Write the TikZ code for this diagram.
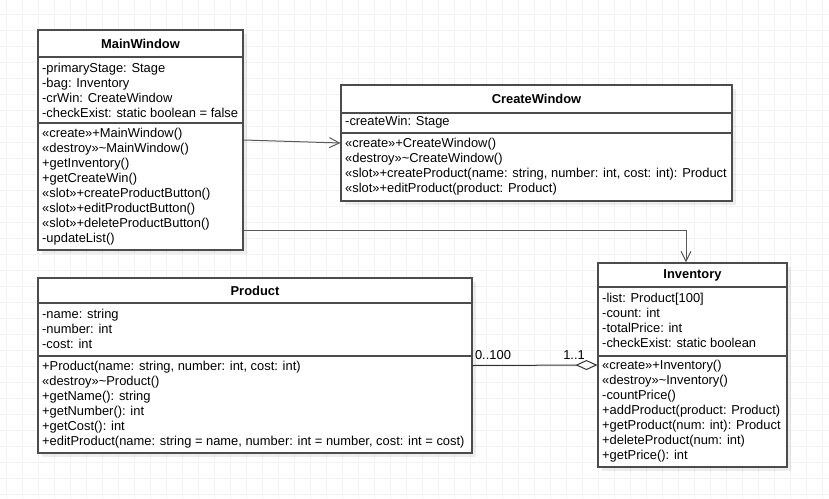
\documentclass[tikz,border=0pt]{standalone}
\usepackage{fontspec}
\setmainfont{Liberation Sans}
\usetikzlibrary{arrows.meta,shadows}
\begin{document}
\begin{tikzpicture}[x=1pt, y=-1pt,
	every node/.style={font=\fontsize{12.9}{15}\selectfont, inner sep=0pt},
	gridline/.style={draw=black!5, line width=1pt},
	classbox/.style={draw=black!70, line width=1.1pt, fill=white,
		drop shadow={shadow xshift=4pt, shadow yshift=-4pt, fill=black, opacity=0.07}},
	sepline/.style={draw=black!70, line width=1.1pt},
	classname/.style={font=\fontsize{12.9}{15}\selectfont\bfseries},
	members/.style={align=left, anchor=west},
	assoc/.style={draw=black!65, line width=1pt, -{Straight Barb[length=10pt,width=10pt]}},
	aggr/.style={draw=black!80, line width=1pt, -{Diamond[open,length=22pt,width=10pt]}}]
		\useasboundingbox (0,0) rectangle (829,498);
		\fill[white] (0,0) rectangle (829,498);
		\foreach \gx in {6.3,22.3,...,829} \draw[gridline] (\gx,0) -- (\gx,498);
		\foreach \gy in {14.5,30.5,...,498} \draw[gridline] (0,\gy) -- (829,\gy);

		\node[classbox, minimum width=205, minimum height=220] (MW) at (140.5,140) {};
			\node[classname] (MWt) at (140.5,43.5) {MainWindow};
			\draw[sepline] (MW.west |- 0,57) -- (MW.east |- 0,57);
			\node[members] (MWa) at (42,90) {-primaryStage: Stage\\-bag: Inventory\\-crWin: CreateWindow\\-checkExist: static boolean = false};
			\draw[sepline] (MW.west |- 0,123) -- (MW.east |- 0,123);
			\node[members] (MWm) at (42,186.5) {«create»+MainWindow()\\«destroy»\textasciitilde MainWindow()\\+getInventory()\\+getCreateWin()\\«slot»+createProductButton()\\«slot»+editProductButton()\\«slot»+deleteProductButton()\\-updateList()};
		\node[classbox, minimum width=391, minimum height=116] (CW) at (536.5,143) {};
			\node[classname] (CWt) at (536.5,99) {CreateWindow};
			\draw[sepline] (CW.west |- 0,113) -- (CW.east |- 0,113);
			\node[members] (CWa) at (345,122.5) {-createWin: Stage};
			\draw[sepline] (CW.west |- 0,133) -- (CW.east |- 0,133);
			\node[members] (CWm) at (345,167) {«create»+CreateWindow()\\«destroy»\textasciitilde CreateWindow()\\«slot»+createProduct(name: string, number: int, cost: int): Product\\«slot»+editProduct(product: Product)};
		\node[classbox, minimum width=434, minimum height=175] (PR) at (255,365.5) {};
			\node[classname] (PRt) at (255,290.5) {Product};
			\draw[sepline] (PR.west |- 0,303) -- (PR.east |- 0,303);
			\node[members] (PRa) at (42,328.5) {-name: string\\-number: int\\-cost: int};
			\draw[sepline] (PR.west |- 0,356) -- (PR.east |- 0,356);
			\node[members] (PRm) at (42,405) {+Product(name: string, number: int, cost: int)\\«destroy»\textasciitilde Product()\\+getName(): string\\+getNumber(): int\\+getCost(): int\\+editProduct(name: string = name, number: int = number, cost: int = cost)};
		\node[classbox, minimum width=189, minimum height=204] (INV) at (692.5,365) {};
			\node[classname] (INVt) at (692.5,275) {Inventory};
			\draw[sepline] (INV.west |- 0,287) -- (INV.east |- 0,287);
			\node[members] (INVa) at (602,320.5) {-list: Product[100]\\-count: int\\-totalPrice: int\\-checkExist: static boolean};
			\draw[sepline] (INV.west |- 0,356) -- (INV.east |- 0,356);
			\node[members] (INVm) at (602,411) {«create»+Inventory()\\«destroy»\textasciitilde Inventory()\\-countPrice()\\+addProduct(product: Product)\\+getProduct(num: int): Product\\+deleteProduct(num: int)\\+getPrice(): int};

		\coordinate (mwOut) at (243,230);
		\coordinate (invIn) at (686,263);
		\draw[assoc] (MW.east) -- (CW.west);
		\draw[assoc] (MW.east |- mwOut) -| (invIn |- INV.north);
		\draw[aggr] (PR.east) -- (INV.west);
		\node (mulPR) at (493,355) {0..100};
		\node (mulINV) at (574,355) {1..1};
	\end{tikzpicture}
\end{document}
